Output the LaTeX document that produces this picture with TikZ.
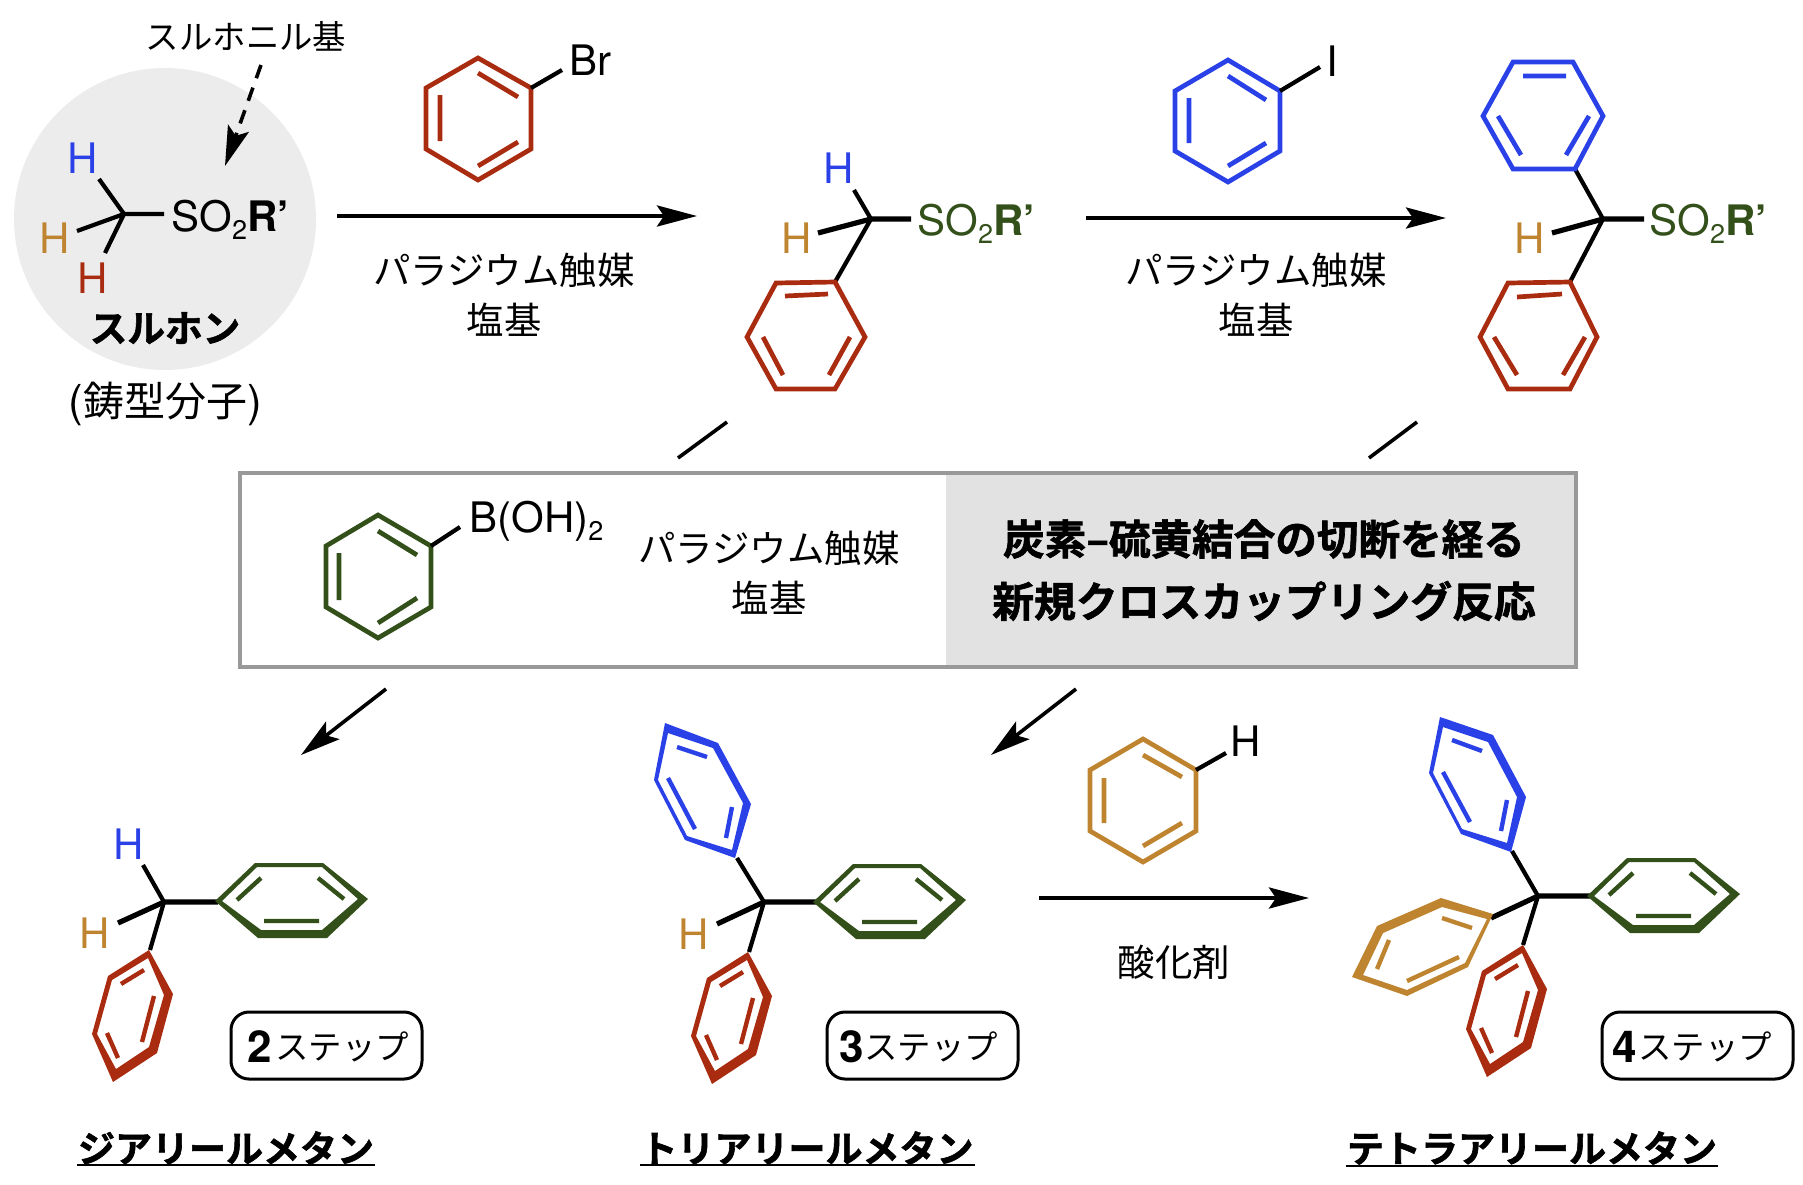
\documentclass[tikz,border=0pt]{standalone}
\usepackage{fontspec}
\setmainfont{TeX Gyre Heros}
\newfontfamily\jp{Noto Sans CJK JP}
\newfontfamily\jpb{Noto Sans CJK JP Bold}[FakeBold=1.6]
\usetikzlibrary{arrows.meta,calc}
\definecolor{cred}{HTML}{A92C10}
\definecolor{cblue}{HTML}{2B41E8}
\definecolor{corange}{HTML}{BE8430}
\definecolor{cgreen}{HTML}{33501A}
\newcommand\fs[1]{\fontsize{#1pt}{#1pt}\selectfont}
\newcommand\sotwo{SO\raisebox{-4.2pt}{\fontsize{13.5pt}{13.5pt}\selectfont 2}\textbf{R’}}
\tikzset{
  bond/.style={line width=2.1pt,black},
  boldbond/.style={line width=2.6pt,black},
  rline/.style={line width=2.35pt,line join=miter,miter limit=10},
  inner/.style={line width=2.35pt},
  pinner/.style={line width=2.2pt},
  pface/.style={even odd rule},
  rxn/.style={line width=2.1pt,-{Stealth[length=20pt,width=10.5pt,inset=3.5pt]}},
  sub/.style={line width=1.8pt,-{Stealth[length=20pt,width=11pt,inset=4pt]}},
  stepbox/.style={draw,line width=1.5pt,rounded corners=9pt},
  lbl/.style={inner sep=0pt,font=\jp\fs{18.7}},
  blbl/.style={inner sep=0pt,font=\jpb\fs{18.5}},
  atom/.style={inner sep=0pt,font=\fs{21}},
}
% perspective rings: outer hexagon minus inner hexagon, plus the three inner bonds
\newcommand\redring[2]{\begin{scope}[shift={(#1,#2)}]
  \fill[cred,pface] (149,950)--(173,994)--(157,1053)--(113,1082)--(92,1034)--(108,976)--cycle
    (148,958)--(164,995)--(149,1047)--(116,1069)--(97,1034)--(112,980)--cycle;
  \draw[pinner,cred] (121,984)--(144,970) (154,996)--(142,1042) (107,1033)--(118,1058);
  \end{scope}}
\newcommand\greenring[2]{\begin{scope}[shift={(#1,#2)}]
  \fill[cgreen,pface] (215,901)--(255,863)--(323,863)--(368,899)--(327,938)--(258,938)--cycle
    (222,901)--(257,867)--(322,867)--(358,899)--(322,930)--(261,930)--cycle;
  \draw[pinner,cgreen] (237,900)--(261,878) (318,878)--(344,899) (264,921)--(319,921);
  \end{scope}}
\begin{document}
\begin{tikzpicture}[x=0.5pt,y=-0.5pt]
\useasboundingbox (0,0) rectangle (1803,1184);
% --- sulfone
\fill[black!7.5] (165,219) circle[radius=151];
\node[lbl,font=\jp\fs{16.7}] (sulfonyl) at (246,36) {スルホニル基};
\coordinate (dA) at (261,65); \coordinate (dB) at (225,166);
\draw[sub,dash pattern=on 7pt off 5pt] (dA) -- (dB);
\coordinate (c1) at (124,214);
\node[atom,text=cblue] (h1a) at (83,158) {H};
\node[atom,text=corange] (h1b) at (55,238) {H};
\node[atom,text=cred] (h1c) at (93,278) {H};
\node[atom,anchor=base west] (so1) at (171,231) {\sotwo};
\coordinate (e1a) at (99,179); \coordinate (e1b) at (77,231); \coordinate (e1c) at (105,253); \coordinate (e1d) at (164,214);
\draw[bond] (c1)--(e1a) (c1)--(e1b) (c1)--(e1c) (c1)--(e1d);
\node[blbl,font=\jpb\fs{18.8}] (sulfone) at (165,328) {スルホン};
\node[inner sep=0pt,font=\jp\fs{20.5}] (mold) at (165,404) {{\fontsize{22pt}{22pt}\fontspec{TeX Gyre Heros}(}鋳型分子{\fontsize{22pt}{22pt}\fontspec{TeX Gyre Heros})}};
% --- step 1
\coordinate (a1s) at (337,216); \coordinate (a1e) at (697,216);
\draw[rxn] (a1s) -- (a1e);
\node[lbl] (pd1) at (504,270) {パラジウム触媒};
\node[lbl] (base1) at (504,320) {塩基};
\draw[rline,cred] (478,58)--(531,88)--(531,149)--(478,180)--(426,149)--(426,88)--cycle;
\draw[inner,cred] (478,73)--(518,97) (440,95)--(440,141) (478,166)--(518,142);
\node[atom,anchor=base west] (br) at (569,75) {Br};
\coordinate (rbr) at (531,88); \coordinate (ebr) at (562,70);
\draw[bond] (rbr)--(ebr);
% --- mol 2
\coordinate (c2) at (871,219);
\node[atom,text=cblue] (h2a) at (839,168) {H};
\node[atom,text=corange] (h2b) at (797,238) {H};
\node[atom,anchor=base west,text=cgreen] (so2) at (917,235) {\sotwo};
\coordinate (e2a) at (854,190); \coordinate (e2b) at (818,233); \coordinate (e2d) at (911,219); \coordinate (r2) at (835,282);
\draw[bond] (c2)--(e2a) (c2)--(r2);
\draw[boldbond] (c2)--(e2b) (c2)--(e2d);
\draw[rline,cred] (835,282)--(865,337)--(835,389)--(776,389)--(747,337)--(776,283)--cycle;
\draw[inner,cred] (785,296)--(828,294) (763,337)--(783,375) (850,337)--(829,375);
% --- step 2
\coordinate (a2s) at (1086,218); \coordinate (a2e) at (1446,218);
\draw[rxn] (a2s) -- (a2e);
\node[lbl] (pd2) at (1256,270) {パラジウム触媒};
\node[lbl] (base2) at (1256,320) {塩基};
\draw[rline,cblue] (1228,60)--(1280,91)--(1280,151)--(1228,182)--(1175,151)--(1175,91)--cycle;
\draw[inner,cblue] (1228,76)--(1266,100) (1189,98)--(1189,143) (1228,166)--(1266,143);
\node[atom] (iod) at (1332,61) {I};
\coordinate (ri) at (1280,91); \coordinate (ei) at (1320,67);
\draw[bond] (ri)--(ei);
% --- mol 3
\coordinate (c3) at (1603,219);
\node[atom,text=corange] (h3b) at (1530,238) {H};
\node[atom,anchor=base west,text=cgreen] (so3) at (1649,235) {\sotwo};
\coordinate (r3a) at (1575,169); \coordinate (e3b) at (1552,233); \coordinate (e3d) at (1644,219); \coordinate (r3c) at (1570,282);
\draw[bond] (c3)--(r3a) (c3)--(r3c);
\draw[boldbond] (c3)--(e3b) (c3)--(e3d);
\draw[rline,cblue] (1575,169)--(1603,116)--(1573,62)--(1513,62)--(1483,116)--(1513,169)--cycle;
\draw[inner,cblue] (1523,76)--(1566,76) (1498,116)--(1521,155) (1589,116)--(1566,155);
\draw[rline,cred] (1570,282)--(1597,337)--(1570,389)--(1508,389)--(1480,337)--(1508,283)--cycle;
\draw[inner,cred] (1517,297)--(1562,294) (1494,337)--(1517,375) (1585,337)--(1563,375);
% --- interrupted lines above box
\coordinate (t1a) at (727,422); \coordinate (t1b) at (678,458);
\coordinate (t2a) at (1417,422); \coordinate (t2b) at (1369,458);
\draw[line width=1.8pt] (t1a)--(t1b) (t2a)--(t2b);
% --- central box
\fill[black!11.5] (946,473) rectangle (1576,667);
\draw[line width=2pt,black!40] (240,473) rectangle (1576,667);
\draw[rline,cgreen] (378,515)--(431,546)--(431,607)--(378,638)--(326,607)--(326,546)--cycle;
\draw[inner,cgreen] (378,531)--(417,555) (339,553)--(339,600) (378,623)--(417,598);
\node[atom,anchor=base west] (boh) at (469,532) {B(OH)\raisebox{-4.2pt}{\fontsize{13.5pt}{13.5pt}\selectfont 2}};
\coordinate (rb) at (431,546); \coordinate (eb) at (460,527);
\draw[bond] (rb)--(eb);
\node[lbl] (pd3) at (769,548) {パラジウム触媒};
\node[lbl] (base3) at (769,598) {塩基};
\node[blbl,font=\jpb\fs{20.8}] (bt1) at (1264,539) {炭素–硫黄結合の切断を経る};
\node[blbl,font=\jpb\fs{20.9}] (bt2) at (1264,601) {新規クロスカップリング反応};
% --- lower arrows
\coordinate (l1a) at (386,689); \coordinate (l1b) at (301,755);
\coordinate (l2a) at (1076,689); \coordinate (l2b) at (991,755);
\draw[sub] (l1a)--(l1b);
\draw[sub] (l2a)--(l2b);
% --- mol 4
\coordinate (c4) at (164,902);
\node[atom,text=cblue] (h4a) at (129,844) {H};
\node[atom,text=corange] (h4b) at (95,933) {H};
\coordinate (e4a) at (143,865); \coordinate (e4b) at (118,923); \coordinate (r4d) at (218,902); \coordinate (r4c) at (150,950);
\draw[bond] (c4)--(e4a) (c4)--(r4c);
\draw[boldbond] (c4)--(e4b) (c4)--(r4d);
\greenring{0}{0}
\redring{0}{0}
\node[stepbox,minimum width=95.5pt,minimum height=33.5pt] (s2) at (326.5,1045.5) {};
\node[inner sep=0pt,font=\bfseries\fs{22}] (n2) at (260,1047) {2};
\node[lbl,font=\jp\fs{16.7}] (st2) at (342,1047) {ステップ};
\node[blbl] (name2) at (226,1148) {ジアリールメタン};
\draw[line width=1.1pt] (77,1165)--(375,1165);
% --- mol 5
\coordinate (c5) at (764,902);
\node[atom,text=corange] (h5b) at (694,934) {H};
\coordinate (r5a) at (737,858); \coordinate (e5b) at (717,924); \coordinate (r5d) at (816,902); \coordinate (r5c) at (749,952);
\draw[bond] (c5)--(r5a) (c5)--(r5c);
\draw[boldbond] (c5)--(e5b) (c5)--(r5d);
\fill[cblue,pface] (665,723)--(718,743)--(751,804)--(735,858)--(685,840)--(654,780)--cycle
  (668,733)--(713,748)--(743,803)--(732,850)--(687,836)--(658,780)--cycle;
\draw[pinner,cblue] (677,747)--(707,757) (668,778)--(695,829) (732,807)--(726,838);
\greenring{598}{1}
\redring{599}{2}
\node[stepbox,minimum width=95.5pt,minimum height=33.5pt] (s3) at (922.5,1045.5) {};
\node[inner sep=0pt,font=\bfseries\fs{22}] (n3) at (852,1047) {3};
\node[lbl,font=\jp\fs{16.7}] (st3) at (931,1047) {ステップ};
\node[blbl] (name3) at (807,1148) {トリアリールメタン};
\draw[line width=1.1pt] (640,1165)--(975,1165);
% --- step 3
\draw[rline,corange] (1143,739)--(1196,770)--(1196,831)--(1143,862)--(1090,831)--(1090,770)--cycle;
\draw[inner,corange] (1143,755)--(1182,777) (1104,778)--(1104,823) (1143,846)--(1182,823);
\node[atom] (hh) at (1246,741) {H};
\coordinate (rh) at (1196,770); \coordinate (eh) at (1226,753);
\draw[bond] (rh)--(eh);
\coordinate (a3s) at (1039,898); \coordinate (a3e) at (1309,898);
\draw[rxn] (a3s) -- (a3e);
\node[lbl] (ox) at (1174,962) {酸化剤};
% --- mol 6
\coordinate (c6) at (1538,896);
\coordinate (r6a) at (1512,851); \coordinate (r6d) at (1590,896); \coordinate (r6b) at (1491,918); \coordinate (r6c) at (1523,945);
\draw[bond] (c6)--(r6a) (c6)--(r6c);
\draw[boldbond] (c6)--(r6d) (c6)--(r6b);
\fill[cblue,pface] (1440,717)--(1493,735)--(1526,797)--(1511,852)--(1461,834)--(1429,773)--cycle
  (1443,727)--(1488,742)--(1517,797)--(1507,843)--(1462,829)--(1433,773)--cycle;
\draw[pinner,cblue] (1452,740)--(1482,751) (1443,772)--(1470,822) (1507,800)--(1501,831);
\greenring{1372}{-5}
\fill[corange,pface] (1493,914)--(1441,898)--(1377,926)--(1352,977)--(1407,996)--(1468,967)--cycle
  (1487,919)--(1442,907)--(1383,933)--(1363,975)--(1407,990)--(1465,963)--cycle;
\draw[pinner,corange] (1442,918)--(1472,928) (1389,940)--(1377,969) (1407,981)--(1459,957);
\redring{1374}{-5}
\node[stepbox,minimum width=95.5pt,minimum height=33.5pt] (s4) at (1697.5,1045.5) {};
\node[inner sep=0pt,font=\bfseries\fs{22}] (n4) at (1625,1047) {4};
\node[lbl,font=\jp\fs{16.7}] (st4) at (1705,1047) {ステップ};
\node[blbl] (name4) at (1532,1148) {テトラアリールメタン};
\draw[line width=1.1pt] (1346,1166)--(1718,1166);
\end{tikzpicture}
\end{document}
